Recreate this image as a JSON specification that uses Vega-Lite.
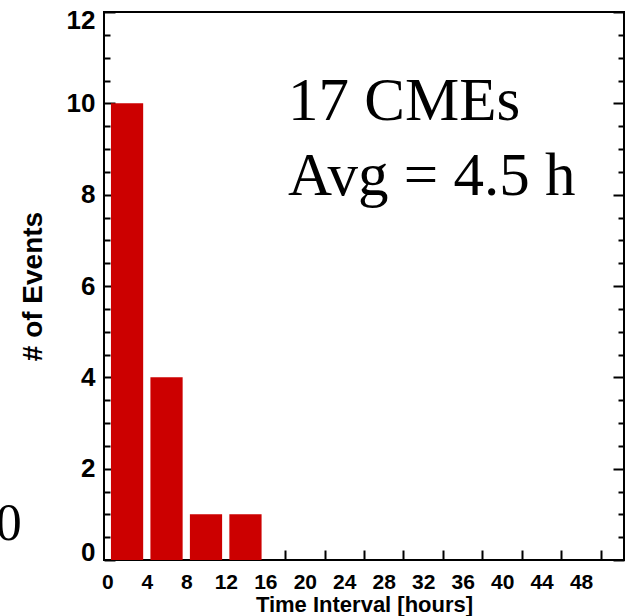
{
  "$schema": "https://vega.github.io/schema/vega-lite/v6.json",
  "width": 520,
  "height": 548,
  "autosize": "none",
  "padding": {"left": 104, "top": 12, "right": 1, "bottom": 56},
  "background": "white",
  "config": {
    "view": {"stroke": "black", "strokeWidth": 2},
    "axis": {
      "grid": false,
      "domain": false,
      "tickColor": "black",
      "tickWidth": 2,
      "labelColor": "black",
      "titleColor": "black",
      "labelFont": "Liberation Sans",
      "titleFont": "Liberation Sans",
      "labelFontWeight": "bold",
      "titleFontWeight": "bold"
    }
  },
  "resolve": {"axis": {"x": "independent", "y": "independent"}},
  "layer": [
    {
      "data": {"values": [
        {"bin_start": 0, "bin_end": 4, "events": 10},
        {"bin_start": 4, "bin_end": 8, "events": 4},
        {"bin_start": 8, "bin_end": 12, "events": 1},
        {"bin_start": 12, "bin_end": 16, "events": 1}
      ]},
      "mark": {"type": "bar", "orient": "vertical", "color": "#cc0000", "xOffset": 3.5, "x2Offset": -3.75},
      "encoding": {
        "x": {
          "field": "bin_start", "type": "quantitative",
          "scale": {"domain": [-0.35, 52.35], "nice": false, "zero": false, "padding": 0},
          "axis": {
            "orient": "bottom",
            "values": [0, 4, 8, 12, 16, 20, 24, 28, 32, 36, 40, 44, 48],
            "ticks": false, "labelFlush": false, "labelOverlap": false,
            "labelFontSize": 21, "labelPadding": 11,
            "title": "Time Interval [hours]", "titleFontSize": 22, "titlePadding": 2
          }
        },
        "x2": {"field": "bin_end"},
        "y": {
          "field": "events", "type": "quantitative",
          "scale": {"domain": [0, 12], "nice": false, "padding": 0},
          "axis": {
            "orient": "left",
            "values": [0, 2, 4, 6, 8, 10, 12],
            "ticks": false, "labelFlush": true, "labelFlushOffset": 5,
            "labelFontSize": 26, "labelPadding": 9,
            "title": "# of Events", "titleFontSize": 28, "titlePadding": 19
          }
        }
      }
    },
    {
      "data": {"values": [
        {"text": "17 CMEs", "hours": 18.3, "events": 9.635},
        {"text": "Avg = 4.5 h", "hours": 18.3, "events": 7.99}
      ]},
      "mark": {"type": "text", "font": "Liberation Serif", "fontSize": 61, "align": "left", "baseline": "alphabetic", "color": "black"},
      "encoding": {
        "text": {"field": "text"},
        "x": {
          "field": "hours", "type": "quantitative",
          "axis": {
            "orient": "bottom",
            "values": [2, 6, 10, 14, 18, 22, 26, 30, 34, 38, 42, 46, 50],
            "labels": false, "title": null, "tickSize": -10
          }
        },
        "y": {
          "field": "events", "type": "quantitative",
          "axis": {
            "orient": "left",
            "values": [0, 0.5, 1, 1.5, 2, 2.5, 3, 3.5, 4, 4.5, 5, 5.5, 6, 6.5, 7, 7.5, 8, 8.5, 9, 9.5, 10, 10.5, 11, 11.5, 12],
            "labels": false, "title": null,
            "tickSize": {"condition": {"test": "datum.value % 2 === 0", "value": -11}, "value": -6}
          }
        }
      }
    },
    {
      "data": {"values": [
        {"text": "0", "hours": -10, "events": 0.44}
      ]},
      "mark": {"type": "text", "font": "Liberation Serif", "fontSize": 52, "align": "center", "baseline": "alphabetic", "color": "black"},
      "encoding": {
        "text": {"field": "text"},
        "x": {"field": "hours", "type": "quantitative", "axis": null},
        "y": {
          "field": "events", "type": "quantitative",
          "axis": {
            "orient": "right",
            "values": [0, 0.5, 1, 1.5, 2, 2.5, 3, 3.5, 4, 4.5, 5, 5.5, 6, 6.5, 7, 7.5, 8, 8.5, 9, 9.5, 10, 10.5, 11, 11.5, 12],
            "labels": false, "title": null,
            "tickSize": {"condition": {"test": "datum.value % 2 === 0", "value": -11}, "value": -6}
          }
        }
      }
    }
  ]
}
